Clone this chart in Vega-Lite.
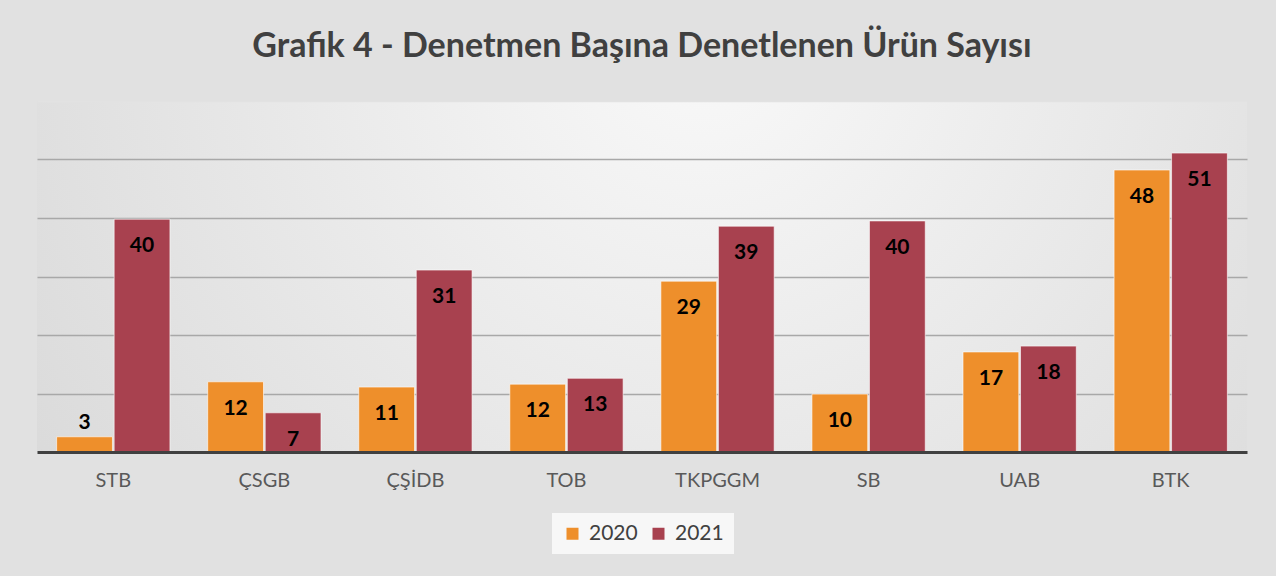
{
  "$schema": "https://vega.github.io/schema/vega-lite/v6.json",
  "width": 1210,
  "height": 351,
  "autosize": {"type": "none"},
  "padding": {"left": 37, "top": 101, "right": 29, "bottom": 124},
  "background": "#e1e1e1",
  "config": {
    "font": "Lato",
    "view": {
      "stroke": null,
      "fill": {
        "gradient": "radial",
        "x1": 0.55, "y1": 0.3, "x2": 0.55, "y2": 0.3, "r1": 0, "r2": 0.75,
        "stops": [{"offset": 0, "color": "#f9f9f9"}, {"offset": 1, "color": "#d6d6d6"}]
      }
    }
  },
  "title": {
    "text": "Grafik 4 - Denetmen Başına Denetlenen Ürün Sayısı",
    "fontSize": 34,
    "font": "Lato",
    "fontWeight": "bold",
    "color": "#404040",
    "anchor": "middle",
    "offset": 37
  },
  "data": {
    "values": [
      {"kurum": "STB", "yil": "2020", "deger": 2.6},
      {"kurum": "STB", "yil": "2021", "deger": 39.8},
      {"kurum": "ÇSGB", "yil": "2020", "deger": 12.0},
      {"kurum": "ÇSGB", "yil": "2021", "deger": 6.7},
      {"kurum": "ÇŞİDB", "yil": "2020", "deger": 11.1},
      {"kurum": "ÇŞİDB", "yil": "2021", "deger": 31.1},
      {"kurum": "TOB", "yil": "2020", "deger": 11.6},
      {"kurum": "TOB", "yil": "2021", "deger": 12.6},
      {"kurum": "TKPGGM", "yil": "2020", "deger": 29.2},
      {"kurum": "TKPGGM", "yil": "2021", "deger": 38.6},
      {"kurum": "SB", "yil": "2020", "deger": 9.9},
      {"kurum": "SB", "yil": "2021", "deger": 39.5},
      {"kurum": "UAB", "yil": "2020", "deger": 17.1},
      {"kurum": "UAB", "yil": "2021", "deger": 18.1},
      {"kurum": "BTK", "yil": "2020", "deger": 48.2},
      {"kurum": "BTK", "yil": "2021", "deger": 51.1}
    ]
  },
  "encoding": {
    "x": {
      "field": "kurum", "type": "nominal", "sort": null,
      "scale": {"paddingInner": 0.25, "paddingOuter": 0.13},
      "axis": {
        "title": null, "labelAngle": 0, "ticks": false, "tickSize": 0,
        "labelPadding": 18, "labelFontSize": 20, "labelColor": "#595959",
        "domainColor": "#404040", "domainWidth": 3, "grid": false, "zindex": 1
      }
    },
    "xOffset": {"field": "yil", "type": "nominal", "scale": {"paddingInner": 0.03}},
    "y": {
      "field": "deger", "type": "quantitative",
      "scale": {"domain": [0, 60], "nice": false, "zero": true},
      "axis": {
        "title": null, "labels": false, "ticks": false, "domain": false,
        "grid": true,
        "gridColor": {"condition": {"test": "datum.value >= 60", "value": "#e2e2e2"}, "value": "#a8a8a8"},
        "gridWidth": 1.5,
        "values": [10, 20, 30, 40, 50, 60]
      }
    }
  },
  "layer": [
    {
      "mark": {"type": "bar", "stroke": "#ffffff", "strokeWidth": 1, "strokeOpacity": 0.6},
      "encoding": {
        "color": {
          "field": "yil", "type": "nominal",
          "scale": {"domain": ["2020", "2021"], "range": ["#EE8F2B", "#A8414F"]},
          "legend": {
            "title": null, "orient": "none", "direction": "horizontal",
            "legendX": 515, "legendY": 412,
            "fillColor": "#f7f7f7", "padding": 10,
            "symbolType": "square", "symbolSize": 144, "symbolStrokeWidth": 0,
            "labelFontSize": 21, "labelColor": "#404040", "labelOffset": 6,
            "columnPadding": 10
          }
        }
      }
    },
    {
      "transform": [{"filter": "datum.deger >= 5"}],
      "mark": {"type": "text", "dy": 27, "baseline": "middle", "fontSize": 21, "fontWeight": "bold", "color": "#000000"},
      "encoding": {"text": {"field": "deger", "type": "quantitative", "format": ".0f"}}
    },
    {
      "transform": [{"filter": "datum.deger < 5"}],
      "mark": {"type": "text", "dy": -14, "baseline": "middle", "fontSize": 21, "fontWeight": "bold", "color": "#000000"},
      "encoding": {"text": {"field": "deger", "type": "quantitative", "format": ".0f"}}
    }
  ]
}
